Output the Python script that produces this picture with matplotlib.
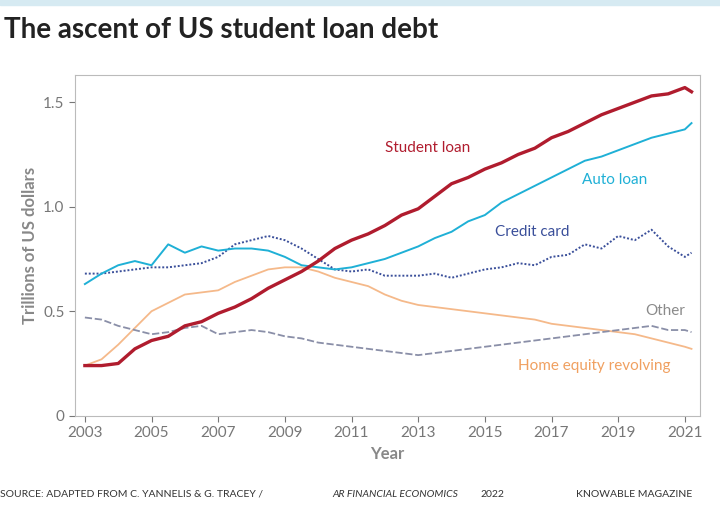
import matplotlib
matplotlib.use("Agg")
import matplotlib.pyplot as plt
import numpy as np

plt.rcParams['font.family'] = ['Lato', 'DejaVu Sans']

years = [2003,2003.5,2004,2004.5,2005,2005.5,2006,2006.5,2007,2007.5,2008,2008.5,2009,2009.5,
         2010,2010.5,2011,2011.5,2012,2012.5,2013,2013.5,2014,2014.5,2015,2015.5,2016,2016.5,
         2017,2017.5,2018,2018.5,2019,2019.5,2020,2020.5,2021,2021.2]
student = [0.24,0.24,0.25,0.32,0.36,0.38,0.43,0.45,0.49,0.52,0.56,0.61,0.65,0.69,0.74,0.80,0.84,0.87,
           0.91,0.96,0.99,1.05,1.11,1.14,1.18,1.21,1.25,1.28,1.33,1.36,1.40,1.44,1.47,1.50,1.53,1.54,1.57,1.55]
auto = [0.63,0.68,0.72,0.74,0.72,0.82,0.78,0.81,0.79,0.80,0.80,0.79,0.76,0.72,0.71,0.70,0.71,0.73,
        0.75,0.78,0.81,0.85,0.88,0.93,0.96,1.02,1.06,1.10,1.14,1.18,1.22,1.24,1.27,1.30,1.33,1.35,1.37,1.40]
credit = [0.68,0.68,0.69,0.70,0.71,0.71,0.72,0.73,0.76,0.82,0.84,0.86,0.84,0.80,0.75,0.70,0.69,0.70,
          0.67,0.67,0.67,0.68,0.66,0.68,0.70,0.71,0.73,0.72,0.76,0.77,0.82,0.80,0.86,0.84,0.89,0.81,0.76,0.78]
home = [0.24,0.27,0.34,0.42,0.50,0.54,0.58,0.59,0.60,0.64,0.67,0.70,0.71,0.71,0.69,0.66,0.64,0.62,
        0.58,0.55,0.53,0.52,0.51,0.50,0.49,0.48,0.47,0.46,0.44,0.43,0.42,0.41,0.40,0.39,0.37,0.35,0.33,0.32]
other = [0.47,0.46,0.43,0.41,0.39,0.40,0.42,0.43,0.39,0.40,0.41,0.40,0.38,0.37,0.35,0.34,0.33,0.32,
         0.31,0.30,0.29,0.30,0.31,0.32,0.33,0.34,0.35,0.36,0.37,0.38,0.39,0.40,0.41,0.42,0.43,0.41,0.41,0.40]

fig = plt.figure(figsize=(7.2, 5.07), dpi=100)
fig.patches.append(plt.Rectangle((0, 0.99), 1, 0.01, transform=fig.transFigure, color='#d6eaf2'))
ax = fig.add_axes([0.104, 0.18, 0.868, 0.672])

ax.plot(years, home, color='#f5b98a', lw=1.3)
ax.plot(years, other, color='#8a8fa8', lw=1.3, ls=(0, (4, 1.5)))
ax.plot(years, credit, color='#3a4f9a', lw=1.4, ls=(0, (1, 1)))
ax.plot(years, auto, color='#1fb0d6', lw=1.4)
ax.plot(years, student, color='#b01c2e', lw=2.4)

ax.text(2012.0, 1.26, 'Student loan', color='#b01c2e', fontsize=11)
ax.text(2017.9, 1.11, 'Auto loan', color='#1fb0d6', fontsize=11)
ax.text(2015.3, 0.86, 'Credit card', color='#3a4f9a', fontsize=11)
ax.text(2019.8, 0.48, 'Other', color='#8a8a8a', fontsize=11)
ax.text(2016.0, 0.22, 'Home equity revolving', color='#f0a060', fontsize=11)

ax.set_xlim(2002.7, 2021.45)
ax.set_ylim(0, 1.63)
ax.set_xticks(range(2003, 2022, 2))
ax.set_yticks([0, 0.5, 1.0, 1.5])
ax.set_yticklabels(['0', '0.5', '1.0', '1.5'])
ax.tick_params(colors='#777777', labelsize=11, length=4)
for s in ax.spines.values():
    s.set_color('#bbbbbb')
ax.set_xlabel('Year', color='#888888', fontsize=12, fontweight='bold')
ax.set_ylabel('Trillions of US dollars', color='#888888', fontsize=12, fontweight='bold')

fig.text(0.005, 0.925, 'The ascent of US student loan debt', fontsize=20, fontweight='bold', color='#222222')
fig.text(0.0, 0.02, 'SOURCE: ADAPTED FROM C. YANNELIS & G. TRACEY / ', fontsize=7.5, color='#333333')
fig.text(0.462, 0.02, 'AR FINANCIAL ECONOMICS', fontsize=7.5, color='#333333', style='italic')
fig.text(0.668, 0.02, '2022', fontsize=7.5, color='#333333')
fig.text(0.80, 0.02, 'KNOWABLE MAGAZINE', fontsize=7.5, color='#333333')

fig.savefig('out.png', dpi=100)
